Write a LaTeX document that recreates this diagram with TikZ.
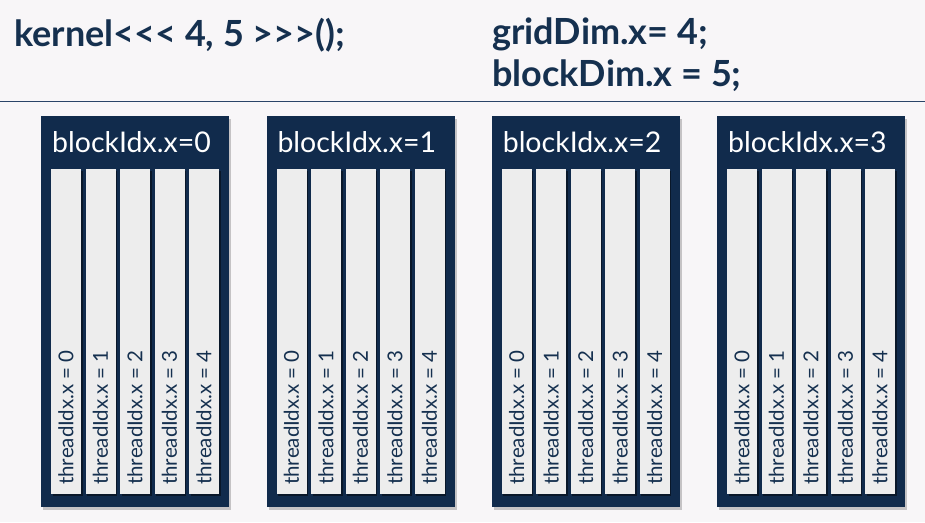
\documentclass[tikz,border=0pt]{standalone}
\usepackage{fontspec}
\setmainfont{Lato}
\usetikzlibrary{shadows}
\definecolor{bgc}{HTML}{F8F6F8}
\definecolor{navy}{HTML}{112B4C}
\definecolor{ink}{HTML}{15304F}
\definecolor{colfill}{HTML}{EDEDED}
\definecolor{rule}{HTML}{2A4468}
% literal angle brackets, kept apart so they are not turned into guillemets
\newcommand{\ltri}{<\kern0pt<\kern0pt<}
\newcommand{\gtri}{>\kern0pt>\kern0pt>}
\tikzset{
  header/.style={anchor=base west, inner sep=0pt, text=ink,
    font=\bfseries\fontsize{36}{42}\selectfont},
  blockbox/.style={anchor=north west, fill=navy, draw=none,
    minimum width=188pt, minimum height=391pt, inner sep=0pt,
    drop shadow={shadow xshift=2pt, shadow yshift=-3pt, opacity=0.35, fill=black!60}},
  blocktitle/.style={anchor=base west, inner sep=0pt, text=white,
    font=\fontsize{28.5}{30}\selectfont},
  threadcol/.style={anchor=north west, fill=colfill, draw=none,
    minimum width=30pt, minimum height=325pt, inner sep=0pt,
    drop shadow={shadow xshift=1.5pt, shadow yshift=-1.5pt, opacity=0.45, fill=black}},
  threadlabel/.style={anchor=west, rotate=90, inner sep=0pt, text=ink,
    font=\fontsize{20.5}{22}\selectfont}
}
\begin{document}
\begin{tikzpicture}[x=1pt,y=-1pt]
  \fill[bgc] (0,0) rectangle (925,522);
  \useasboundingbox (0,0) rectangle (925,522);
  % launch configuration
  \node[header] (launch) at (14,46) {kernel\ltri{} 4, 5 \gtri();};
  \node[header] (griddim) at (492,44) {gridDim.x= 4;};
  \node[header] (blockdim) at (492,86) {blockDim.x = 5;};
  \draw[rule, line width=1.1pt] (0,101.5) -- (925,101.5);
  % one block per gridDim.x, five threads each
  \foreach \i in {0,...,3} {
    \pgfmathsetmacro{\bx}{41+225.3*\i}
    \node[blockbox] (b\i) at (\bx,116) {};
    \node[blocktitle] (bt\i) at (\bx+11,152) {blockIdx.x=\i};
    \foreach \j in {0,...,4} {
      \pgfmathsetmacro{\tx}{\bx+10+34.5*\j}
      \node[threadcol] (t\i\j) at (\tx,169) {};
      \node[threadlabel] (tl\i\j) at (\tx+15,485) {threadIdx.x = \j};
    }
  }
\end{tikzpicture}
\end{document}
